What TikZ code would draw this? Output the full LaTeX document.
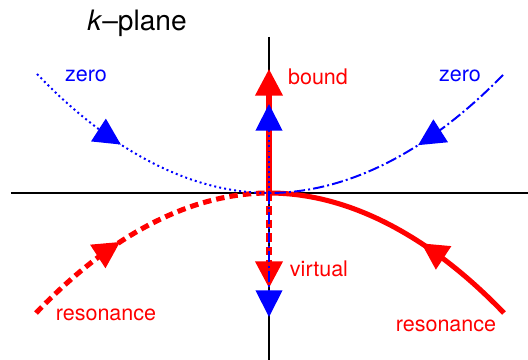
\documentclass[tikz,border=0pt]{standalone}
\usepackage{fontspec}
\setmainfont{TeX Gyre Heros}
\usepackage{tikz}
\usetikzlibrary{arrows.meta,positioning,decorations.markings}

\begin{document}
\begin{tikzpicture}[
  x=0.025cm, y=0.025cm,
  >={Triangle[length=19pt, width=19pt]},
  axis/.style={draw=black, line width=1.4pt},
  redline/.style={draw=red, fill=red, line width=3.6pt},
  blueline/.style={draw=blue, fill=blue, line width=1.4pt},
  dotline/.style={dash pattern=on 1.4pt off 2.2pt},
  dashline/.style={dash pattern=on 6pt off 3.6pt},
  dotdash/.style={dash pattern=on 8pt off 2.2pt on 1.4pt off 2.2pt},
  midarrow/.style={postaction={decorate, solid},
                   decoration={markings, mark=at position #1 with {\arrow{>}}}},
  lbl/.style={font=\fontsize{15.3}{18}\selectfont, inner sep=0pt},
  title/.style={font=\fontsize{20}{24}\selectfont, inner sep=0pt}
]
  \useasboundingbox (-269,-167) rectangle (259,193);

  % --- axes ---
  \coordinate (O) at (0,0);
  \coordinate (xw) at (-258,0);
  \coordinate (xe) at (259,0);
  \coordinate (yn) at (0,156);
  \coordinate (ys) at (0,-167);
  \draw[axis] (xw) -- (xe);
  \draw[axis] (yn) -- (ys);

  % --- outer ends of the curves ---
  \coordinate (zl) at (-232,119);
  \coordinate (zr) at (234,118);
  \coordinate (rl) at (-233,-120);
  \coordinate (rr) at (235,-120);

  % --- ends of the vertical arrows ---
  \coordinate (bndR) at (0,124);
  \coordinate (bndB) at (0,89);
  \coordinate (virR) at (0,-95);
  \coordinate (virB) at (0,-124);

  % --- resonances (red) ---
  \draw[redline, fill=none, dashline, midarrow=0.41] (rl) parabola[bend at end] (O);
  \draw[redline, fill=none, midarrow=0.40] (rr) parabola[bend at end] (O);
  \draw[redline, ->] (O) -- (bndR);
  \draw[redline, dashline, ->] (O) -- (virR);

  % --- zeros (blue) ---
  \draw[blueline, fill=none, dotline, midarrow=0.41] (zl) parabola[bend at end] (O);
  \draw[blueline, fill=none, dotdash, midarrow=0.41] (zr) parabola[bend at end] (O);
  \draw[blueline, dotline, ->] (O) -- (bndB);
  \draw[blueline, dotdash, ->] (O) -- (virB);

  % --- labels ---
  \node[title] (ttl) at (-132,170) {\textit{k}--plane};
  \node[lbl, text=blue] (zeroL) at (-183,117) {zero};
  \node[lbl, text=blue] (zeroR) at (191,117) {zero};
  \node[lbl, text=red] (bound) at (49,116) {bound};
  \node[lbl, text=red] (virt) at (50,-76) {virtual};
  \node[lbl, text=red] (resL) at (-163,-122) {resonance};
  \node[lbl, text=red] (resR) at (177,-133) {resonance};
\end{tikzpicture}
\end{document}
